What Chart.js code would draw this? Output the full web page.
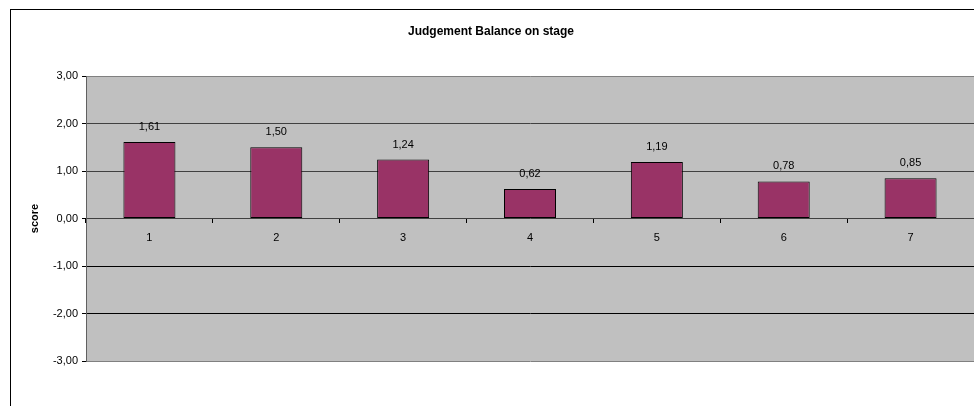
<!DOCTYPE html>
<html>
<head>
<meta charset="utf-8">
<script src="https://cdn.jsdelivr.net/npm/chart.js@4/dist/chart.umd.min.js"></script>
<style>
  html, body { margin: 0; padding: 0; background: #fff; }
  #wrap { position: relative; width: 974px; height: 406px; }
</style>
</head>
<body>
<div id="wrap"><canvas id="chart" width="974" height="406"></canvas></div>
<script>
// chart data
const categories = ['1', '2', '3', '4', '5', '6', '7'];
const scores = [1.61, 1.50, 1.24, 0.62, 1.19, 0.78, 0.85];
const yTicks = [-3, -2, -1, 0, 1, 2, 3];

const FONT = 'Liberation Sans, Arial, sans-serif';
const fmt = v => v.toFixed(2).replace('.', ',');

// frame + grey plot area + value labels
const backdrop = {
  id: 'backdrop',
  beforeDraw(chart) {
    const { ctx, chartArea: a } = chart;
    ctx.save();
    ctx.strokeStyle = '#000';
    ctx.lineWidth = 1;
    ctx.strokeRect(10.5, 9.5, 1000, 500);
    ctx.fillStyle = '#c0c0c0';
    ctx.fillRect(a.left, a.top, a.right - a.left, a.bottom - a.top);
    ctx.restore();
  },
  afterDatasetsDraw(chart) {
    const { ctx } = chart;
    const meta = chart.getDatasetMeta(0);
    ctx.save();
    ctx.font = '11px ' + FONT;
    ctx.fillStyle = '#000';
    ctx.textAlign = 'center';
    ctx.textBaseline = 'middle';
    meta.data.forEach((bar, i) => {
      ctx.fillText(fmt(scores[i]), bar.x, bar.y - 15);
    });
    ctx.restore();
  }
};

new Chart(document.getElementById('chart'), {
  type: 'bar',
  data: {
    labels: categories,
    datasets: [{
      data: scores,
      backgroundColor: '#993366',
      borderColor: '#000',
      borderWidth: 1,
      borderSkipped: false,
      categoryPercentage: 1,
      barPercentage: 0.41
    }]
  },
  options: {
    responsive: false,
    animation: false,
    layout: { padding: { left: 8, right: 0, top: 0, bottom: 45 } },
    plugins: {
      legend: { display: false },
      tooltip: { enabled: false },
      title: {
        display: true,
        text: 'Judgement Balance on stage',
        color: '#000',
        font: { family: FONT, size: 12, weight: 'bold' },
        padding: { top: 24, bottom: 37.6 }
      }
    },
    scales: {
      x: {
        position: { y: 0 },
        grid: { drawOnChartArea: false, drawTicks: true, tickLength: 4, color: '#000', offset: true },
        border: { display: false },
        ticks: { color: '#000', font: { family: FONT, size: 11 }, padding: 9, maxRotation: 0 }
      },
      y: {
        min: -3,
        max: 3,
        afterBuildTicks: s => { s.ticks = yTicks.map(v => ({ value: v })); },
        afterFit: s => { s.width = 78; },
        grid: {
          color: c => {
            const v = c.tick ? c.tick.value : 0;
            if (Math.abs(v) === 3) return '#808080';
            return v < 0 ? '#000' : '#404040';
          },
          tickColor: '#000',
          tickLength: 4
        },
        border: { display: true, color: '#606060' },
        ticks: {
          color: '#000',
          font: { family: FONT, size: 11 },
          padding: 4,
          callback: v => fmt(v)
        },
        title: {
          display: true,
          text: 'score',
          color: '#000',
          font: { family: FONT, size: 11, weight: 'bold' },
          padding: { top: 20, bottom: 0 }
        }
      }
    }
  },
  plugins: [backdrop]
});
</script>
</body>
</html>
